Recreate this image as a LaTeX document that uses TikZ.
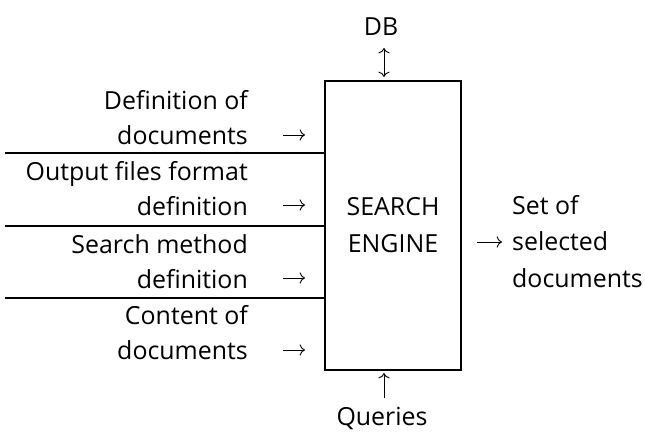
\documentclass[tikz,border=0pt]{standalone}
\usepackage{fontspec}
\setmainfont{Open Sans}
\usetikzlibrary{arrows.meta,positioning}
\tikzset{
    lbl/.style={inner sep=0pt, font=\fontsize{25}{35}\selectfont},
    blk/.style={draw=black, line width=1.7bp, inner sep=0pt},
    sep/.style={line width=1.6bp},
    arr/.style={-{To[scale=1.5]}, line width=0.9bp}
}

\begin{document}
\begin{tikzpicture}[x=1bp, y=-1bp]
    \useasboundingbox (0,0) rectangle (645,434);

    % the engine itself
    \node[blk, minimum width=136bp, minimum height=289bp, lbl, align=center,
          font=\fontsize{25}{37}\selectfont] (engine) at (393,225.5) {SEARCH\\ENGINE};

    % inputs on the left
    \node[lbl, align=right, anchor=east] (defdoc) at (248,118) {Definition of\\documents};
    \node[lbl, align=right, anchor=east] (outfmt) at (248,189) {Output files format\\definition};
    \node[lbl, align=right, anchor=east] (method) at (248,262) {Search method\\definition};
    \node[lbl, align=right, anchor=east] (content) at (248,333) {Content of\\documents};

    \foreach \n/\y in {defdoc/135, outfmt/205, method/278, content/350} {
        \coordinate (\n tip) at (305,\y);
        \draw[arr] (\n tip) ++(-22,0) -- (\n tip);
    }

    \draw[sep]
    (5,153) -- (engine.west |- 0,153)
    (5,226) -- (engine.west |- 0,226)
    (5,298) -- (engine.west |- 0,298);

    % database on top, queries below
    \node[lbl] (db) at (381,27) {DB};
    \coordinate (dbtop) at (384,48);
    \coordinate (dbbot) at (384,77);
    \draw[{To[scale=1.5]}-{To[scale=1.5]}, line width=0.9bp] (dbtop) -- (dbbot);

    \node[lbl] (queries) at (382,418) {Queries};
    \coordinate (qtop) at (384,373);
    \draw[arr] (qtop |- 0,398) -- (qtop);

    % result on the right
    \coordinate (outtail) at (477,242);
    \coordinate (outtip) at (502,242);
    \draw[arr] (outtail) -- (outtip);
    \node[lbl, align=left, anchor=west, font=\fontsize{25}{37}\selectfont] (result) at (512,241.5)
        {Set of\\selected\\documents};
\end{tikzpicture}
\end{document}
